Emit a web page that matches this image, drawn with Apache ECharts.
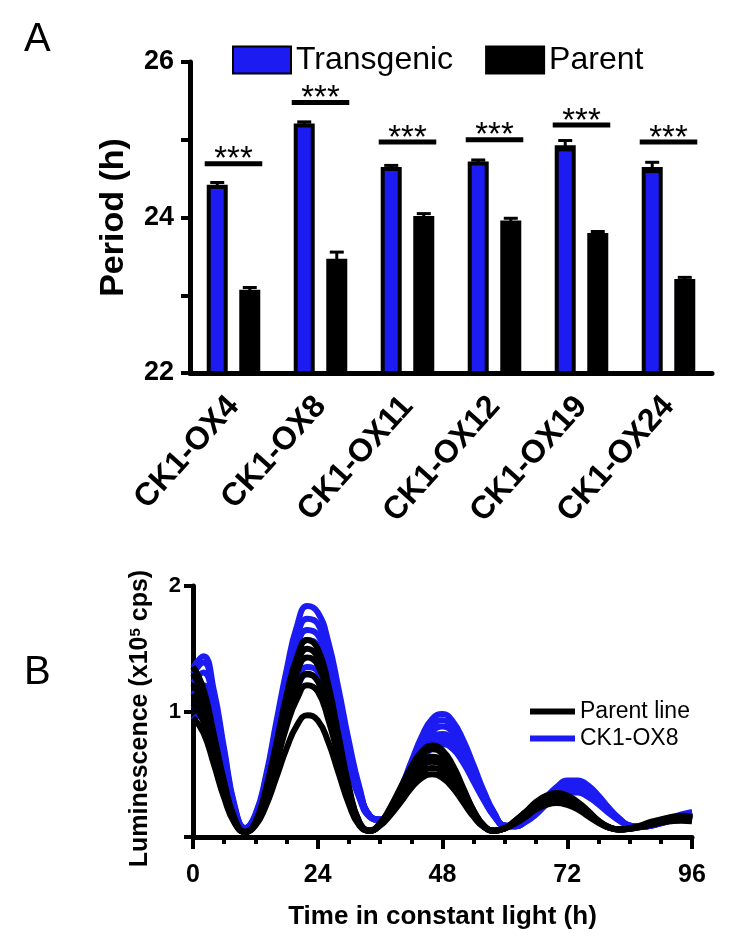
<!DOCTYPE html>
<html>
<head>
<meta charset="utf-8">
<script src="https://cdn.jsdelivr.net/npm/echarts@6/dist/echarts.min.js"></script>
<style>
html,body{margin:0;padding:0;background:#fff;}
#chart{width:750px;height:952px;}
</style>
</head>
<body>
<div id="chart"></div>
<script>
// ---------- Panel A data ----------
var lines = ['CK1-OX4','CK1-OX8','CK1-OX11','CK1-OX12','CK1-OX19','CK1-OX24'];
var transgenicMean = [24.42, 25.21, 24.65, 24.72, 24.93, 24.65];
var transgenicErr  = [0.03, 0.02, 0.02, 0.02, 0.06, 0.06];
var parentMean     = [23.07, 23.47, 24.02, 23.96, 23.80, 23.21];
var parentErr      = [0.03, 0.085, 0.03, 0.03, 0.02, 0.02];
var sigLevel       = [24.69, 25.48, 24.97, 25.00, 25.19, 24.97];
var sigText        = ['***','***','***','***','***','***'];
var periodTicks    = [22, 24, 26];

// ---------- Panel B data ----------
var hours = [0,2,4,6,8,10,12,14,16,18,20,22,24,26,28,30,32,34,36,38,40,42,44,46,48,50,52,54,56,58,60,62,64,66,68,70,72,74,76,78,80,82,84,86,88,90,92,94,96];
var timeTicks = [0,24,48,72,96];
var parent1 = [1.36,1.18,0.82,0.44,0.15,0.04,0.12,0.38,0.74,1.13,1.43,1.57,1.50,1.22,0.81,0.40,0.12,0.05,0.11,0.24,0.40,0.56,0.68,0.73,0.69,0.57,0.39,0.21,0.09,0.05,0.07,0.13,0.20,0.28,0.33,0.35,0.33,0.28,0.21,0.13,0.08,0.06,0.07,0.09,0.12,0.14,0.16,0.17,0.16];
var parent2 = [1.30,1.13,0.78,0.42,0.14,0.04,0.11,0.36,0.71,1.08,1.37,1.50,1.43,1.17,0.78,0.38,0.12,0.05,0.11,0.23,0.39,0.54,0.65,0.70,0.66,0.54,0.375,0.21,0.09,0.05,0.07,0.13,0.20,0.27,0.32,0.34,0.32,0.27,0.20,0.13,0.08,0.06,0.067,0.085,0.11,0.135,0.153,0.16,0.153];
var parent3 = [1.22,1.06,0.74,0.39,0.13,0.04,0.11,0.35,0.68,1.03,1.31,1.43,1.37,1.11,0.74,0.37,0.11,0.05,0.10,0.215,0.36,0.49,0.60,0.64,0.605,0.50,0.345,0.19,0.085,0.05,0.07,0.12,0.19,0.255,0.30,0.32,0.30,0.255,0.19,0.125,0.077,0.06,0.066,0.083,0.105,0.128,0.144,0.15,0.144];
var parent4 = [1.14,0.99,0.69,0.37,0.13,0.04,0.10,0.32,0.62,0.94,1.19,1.30,1.24,1.01,0.675,0.34,0.11,0.05,0.10,0.20,0.34,0.46,0.56,0.60,0.57,0.47,0.325,0.18,0.08,0.05,0.07,0.12,0.18,0.25,0.29,0.31,0.29,0.25,0.185,0.12,0.077,0.06,0.066,0.083,0.105,0.128,0.144,0.15,0.144];
var parent5 = [1.06,0.92,0.64,0.35,0.12,0.04,0.10,0.30,0.58,0.88,1.10,1.21,1.16,0.94,0.63,0.32,0.10,0.05,0.095,0.19,0.31,0.425,0.515,0.55,0.52,0.43,0.30,0.17,0.08,0.05,0.069,0.114,0.17,0.23,0.27,0.29,0.27,0.23,0.175,0.118,0.075,0.06,0.065,0.08,0.10,0.12,0.134,0.14,0.134];
var parent6 = [0.95,0.83,0.58,0.31,0.11,0.04,0.09,0.245,0.47,0.705,0.89,0.97,0.93,0.76,0.51,0.26,0.09,0.05,0.09,0.176,0.28,0.39,0.47,0.50,0.47,0.39,0.275,0.16,0.077,0.05,0.068,0.108,0.16,0.22,0.256,0.27,0.255,0.22,0.165,0.113,0.074,0.06,0.065,0.078,0.095,0.113,0.125,0.13,0.125];
var ox8_1 = [1.35,1.44,1.17,0.70,0.25,0.07,0.18,0.48,0.91,1.33,1.68,1.84,1.79,1.56,1.18,0.76,0.40,0.17,0.14,0.22,0.39,0.60,0.80,0.94,0.98,0.92,0.77,0.57,0.36,0.19,0.09,0.09,0.135,0.22,0.32,0.40,0.45,0.45,0.41,0.33,0.23,0.15,0.09,0.08,0.09,0.12,0.15,0.18,0.20];
var ox8_2 = [1.30,1.39,1.13,0.67,0.24,0.07,0.17,0.46,0.86,1.26,1.59,1.74,1.70,1.47,1.12,0.72,0.38,0.17,0.14,0.22,0.38,0.575,0.76,0.89,0.93,0.87,0.73,0.545,0.35,0.18,0.09,0.086,0.13,0.21,0.31,0.39,0.43,0.43,0.39,0.32,0.23,0.145,0.09,0.08,0.09,0.115,0.144,0.172,0.193];
var ox8_3 = [1.23,1.31,1.07,0.64,0.23,0.07,0.17,0.44,0.82,1.20,1.51,1.65,1.61,1.40,1.06,0.69,0.37,0.17,0.14,0.21,0.36,0.55,0.72,0.84,0.88,0.83,0.70,0.52,0.33,0.18,0.09,0.086,0.13,0.21,0.29,0.37,0.41,0.41,0.37,0.30,0.22,0.14,0.09,0.08,0.09,0.115,0.144,0.172,0.193];
var ox8_4 = [1.13,1.21,0.99,0.59,0.22,0.07,0.16,0.42,0.78,1.14,1.44,1.57,1.53,1.33,1.01,0.66,0.355,0.17,0.135,0.21,0.34,0.51,0.675,0.79,0.82,0.77,0.65,0.485,0.31,0.17,0.09,0.085,0.127,0.20,0.28,0.35,0.395,0.395,0.36,0.29,0.21,0.14,0.09,0.08,0.09,0.112,0.138,0.165,0.183];
var ox8_5 = [1.02,1.09,0.89,0.54,0.20,0.07,0.15,0.37,0.68,0.99,1.24,1.355,1.32,1.15,0.88,0.58,0.32,0.16,0.135,0.20,0.33,0.49,0.64,0.75,0.78,0.73,0.62,0.46,0.30,0.165,0.09,0.085,0.124,0.19,0.27,0.34,0.375,0.375,0.34,0.28,0.20,0.134,0.09,0.08,0.09,0.109,0.133,0.157,0.174];
var ox8_6 = [0.93,0.99,0.81,0.49,0.19,0.07,0.15,0.35,0.65,0.94,1.18,1.295,1.26,1.10,0.84,0.56,0.31,0.16,0.135,0.20,0.32,0.47,0.61,0.71,0.74,0.70,0.59,0.44,0.29,0.16,0.09,0.085,0.12,0.18,0.26,0.32,0.355,0.355,0.32,0.26,0.19,0.13,0.09,0.08,0.09,0.109,0.133,0.157,0.174];

var parentTraces = [parent1, parent2, parent3, parent4, parent5, parent6];
var ox8Traces = [ox8_1, ox8_2, ox8_3, ox8_4, ox8_5, ox8_6];

// ---------- styles ----------
var BLUE = '#1c1cf2';
var FONT = "'Liberation Sans', Arial, sans-serif";
var BAR_W = 21, BAR_GAP = 0.55;
var barOffset = (BAR_W + BAR_W * BAR_GAP) / 2;

function pairs(ys) { return hours.map(function (h, i) { return [h, ys[i]]; }); }

function errRender(sign) {
  return function (params, api) {
    var i = api.value(0), m = api.value(1), e = api.value(2);
    var hi = api.coord([i, m + e]), lo = api.coord([i, m - e]);
    var x = hi[0] + sign * barOffset, hw = 7;
    var st = { stroke: '#000', lineWidth: 3 };
    return { type: 'group', children: [
      { type: 'line', shape: { x1: x, y1: hi[1], x2: x, y2: lo[1] }, style: st },
      { type: 'line', shape: { x1: x - hw, y1: hi[1], x2: x + hw, y2: hi[1] }, style: st },
      { type: 'line', shape: { x1: x - hw, y1: lo[1], x2: x + hw, y2: lo[1] }, style: st }
    ]};
  };
}
function sigRender(params, api) {
  var c = api.coord([api.value(0), api.value(1)]);
  var hw = barOffset + BAR_W / 2 + 2;
  return { type: 'group', children: [
    { type: 'line', shape: { x1: c[0] - hw, y1: c[1], x2: c[0] + hw, y2: c[1] }, style: { stroke: '#000', lineWidth: 5 } },
    { type: 'text', style: { text: sigText[params.dataIndex], x: c[0], y: c[1] + 13, align: 'center', verticalAlign: 'bottom', font: '33px ' + FONT, fill: '#000' } }
  ]};
}

var series = [
  { name: 'Transgenic', type: 'bar', xAxisIndex: 0, yAxisIndex: 0, data: transgenicMean,
    barWidth: BAR_W, barGap: (BAR_GAP * 100) + '%',
    itemStyle: { color: BLUE, borderColor: '#000', borderWidth: 4 } },
  { name: 'Parent', type: 'bar', xAxisIndex: 0, yAxisIndex: 0, data: parentMean,
    barWidth: BAR_W,
    itemStyle: { color: '#000', borderColor: '#000', borderWidth: 4 } },
  { type: 'custom', xAxisIndex: 0, yAxisIndex: 0, z: 4, renderItem: errRender(-1),
    data: transgenicMean.map(function (v, i) { return [i, v, transgenicErr[i]]; }), encode: { x: 0, y: 1 } },
  { type: 'custom', xAxisIndex: 0, yAxisIndex: 0, z: 4, renderItem: errRender(1),
    data: parentMean.map(function (v, i) { return [i, v, parentErr[i]]; }), encode: { x: 0, y: 1 } },
  { type: 'custom', xAxisIndex: 0, yAxisIndex: 0, z: 4, renderItem: sigRender,
    data: sigLevel.map(function (v, i) { return [i, v]; }), encode: { x: 0, y: 1 } }
];
ox8Traces.forEach(function (t) {
  series.push({ name: 'CK1-OX8', type: 'line', xAxisIndex: 1, yAxisIndex: 1, data: pairs(t),
    smooth: true, showSymbol: false, symbol: 'none', z: 2,
    lineStyle: { color: BLUE, width: 6 }, itemStyle: { color: BLUE } });
});
parentTraces.forEach(function (t) {
  series.push({ name: 'Parent line', type: 'line', xAxisIndex: 1, yAxisIndex: 1, data: pairs(t),
    smooth: true, showSymbol: false, symbol: 'none', z: 3,
    lineStyle: { color: '#000', width: 6 }, itemStyle: { color: '#000' } });
});

var axisLineStyle = { color: '#000', width: 5 };
var option = {
  animation: false,
  backgroundColor: '#fff',
  textStyle: { fontFamily: FONT },
  graphic: [
    { type: 'text', left: 24, top: 20, style: { text: 'A', font: '40px ' + FONT, fill: '#000' } },
    { type: 'text', left: 24, top: 653, style: { text: 'B', font: '40px ' + FONT, fill: '#000' } }
  ],
  legend: [
    { data: [{ name: 'Transgenic', icon: 'rect' }, { name: 'Parent', icon: 'rect' }],
      left: 232, top: 44, padding: 0, itemWidth: 58, itemHeight: 27, itemGap: 32,
      textStyle: { fontSize: 32, color: '#000', fontFamily: FONT }, selectedMode: false },
    { data: [{ name: 'Parent line', icon: 'rect' }, { name: 'CK1-OX8', icon: 'rect' }],
      orient: 'vertical', left: 530, top: 700, padding: 0, itemWidth: 45, itemHeight: 6, itemGap: 4,
      textStyle: { fontSize: 23, color: '#000', fontFamily: FONT }, selectedMode: false }
  ],
  grid: [
    { left: 190, top: 62, width: 522, height: 311 },
    { left: 193, top: 586, width: 499, height: 251 }
  ],
  xAxis: [
    { type: 'category', gridIndex: 0, data: lines,
      axisLine: { lineStyle: axisLineStyle }, axisTick: { show: false },
      axisLabel: { rotate: 48, margin: 28, fontSize: 32, fontWeight: 'bold', color: '#000', fontFamily: FONT } },
    { type: 'value', gridIndex: 1, min: 0, max: 96, interval: 24,
      axisLine: { show: true, lineStyle: axisLineStyle },
      axisTick: { show: true, length: 12, lineStyle: { color: '#000', width: 4 } },
      minorTick: { show: true, splitNumber: 4, length: 7, lineStyle: { color: '#000', width: 4 } },
      splitLine: { show: false },
      axisLabel: { margin: 26, fontSize: 25, fontWeight: 'bold', color: '#000', fontFamily: FONT,
        formatter: function (v) { return timeTicks.indexOf(v) >= 0 ? String(v) : ''; } },
      name: 'Time in constant light (h)', nameLocation: 'middle', nameGap: 67,
      nameTextStyle: { fontSize: 26, fontWeight: 'bold', color: '#000', fontFamily: FONT } }
  ],
  yAxis: [
    { type: 'value', gridIndex: 0, min: 22, max: 26, interval: 1,
      axisLine: { show: true, lineStyle: axisLineStyle },
      axisTick: { show: true, length: 9, lineStyle: { color: '#000', width: 4 } },
      splitLine: { show: false },
      axisLabel: { margin: 16, fontSize: 27, fontWeight: 'bold', color: '#000', fontFamily: FONT,
        formatter: function (v) { return periodTicks.indexOf(v) >= 0 ? String(v) : ''; } },
      name: 'Period (h)', nameLocation: 'middle', nameRotate: 90, nameGap: 59,
      nameTextStyle: { fontSize: 34, fontWeight: 'bold', color: '#000', fontFamily: FONT } },
    { type: 'value', gridIndex: 1, min: 0, max: 2, interval: 1,
      axisLine: { show: true, lineStyle: axisLineStyle },
      axisTick: { show: true, length: 9, lineStyle: { color: '#000', width: 4 } },
      splitLine: { show: false },
      axisLabel: { margin: 12, fontSize: 22, fontWeight: 'bold', color: '#000', fontFamily: FONT,
        formatter: function (v) { return v === 0 ? '' : String(v); } },
      name: 'Luminescence (x10{sup|5} cps)', nameLocation: 'middle', nameRotate: 90, nameGap: 40,
      nameTextStyle: { fontSize: 25, fontWeight: 'bold', color: '#000', fontFamily: FONT, padding: [0, 14, 0, 0],
        rich: { sup: { fontSize: 15, fontWeight: 'bold', color: '#000', fontFamily: FONT, verticalAlign: 'top', padding: [0, 0, 10, 0] } } } }
  ],
  series: series
};
var chart = echarts.init(document.getElementById('chart'), null, { renderer: 'canvas' });
chart.setOption(option);
</script>
</body>
</html>
